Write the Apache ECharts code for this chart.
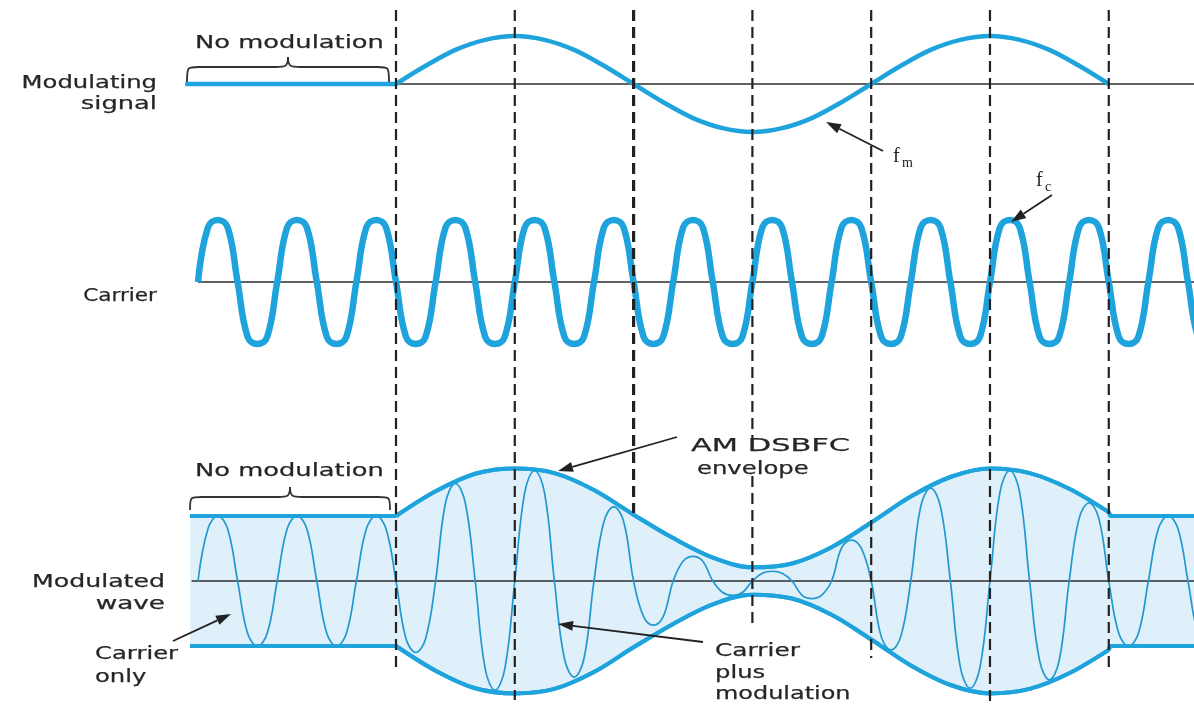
<!DOCTYPE html>
<html><head><meta charset="utf-8">
<script src="https://cdn.jsdelivr.net/npm/echarts@6/dist/echarts.min.js"></script>
<style>html,body{margin:0;padding:0;background:#fff}#c{width:1194px;height:704px}</style>
</head><body><div id="c"></div>
<script>
// ---------- data (time in carrier periods, amplitudes normalised) ----------
const T_MIN = -2.5, T_MAX = 12.576;

// Modulating signal
const modFlat = [[-0.16, 0], [2.5, 0]];
const modT = [2.5, 2.875, 3.25, 3.625, 4, 4.375, 4.75, 5.125, 5.5, 5.875, 6.25, 6.625, 7,
  7.375, 7.75, 8.125, 8.5, 8.875, 9.25, 9.625, 10, 10.375, 10.75, 11.125, 11.5];
const modV = [0, 0.38, 0.71, 0.92, 1, 0.92, 0.71, 0.38, 0, -0.38, -0.71, -0.92, -1,
  -0.92, -0.71, -0.38, 0, 0.38, 0.71, 0.92, 1, 0.92, 0.71, 0.38, 0];

// Carrier: one period sampled every 1/8 period
const carrierShape = [0, 0.88, 1, 0.88, 0, -0.88, -1, -0.88];
const carrierSteps = 102;
// Modulated-wave carrier half-cycle shape (1/8 period steps)
const lobeShape = [0, 0.8, 1, 0.8];

// Modulated wave: amplitude of each carrier half-cycle
const lobeAmp = [1, 1, 1, 1, 1, 1.1, 1.5, 1.68, 1.7, 1.48, 1.14, 0.68, 0.38, 0.22, 0.15, 0.27, 0.63, 1.06, 1.43, 1.65, 1.7, 1.52, 1.2, 1, 1, 1];

// AM envelope
const envFlatL = [[-0.1, 1], [2.5, 1]];
const envT = [2.5, 3, 3.5, 4, 4.5, 5, 5.5, 6, 6.5, 7, 7.5, 8, 8.5, 9, 9.5, 10, 10.5, 11, 11.5];
const envV = [1, 1.38, 1.65, 1.73, 1.66, 1.4, 1.02, 0.66, 0.36, 0.21, 0.27, 0.52, 0.9, 1.3, 1.6, 1.73, 1.66, 1.42, 1.06];
const envFlatR = [[11.5, 1.06], [11.52, 1], [12.6, 1]];

// Guide lines at modulating zero crossings / peaks
const guideT = [2.5, 4, 5.5, 7, 8.5, 10, 11.5];

// ---------- build series data ----------
const modData = modT.map((t, i) => [t, modV[i]]);
const carrierData = [];
for (let k = 0; k <= carrierSteps; k++) carrierData.push([k / 8, carrierShape[k % 8]]);
const thinData = [];
lobeAmp.forEach((a, j) => {
  const s = j % 2 ? -1 : 1;
  for (let k = 0; k < 4; k++) thinData.push([j * 0.5 + k * 0.125, s * a * lobeShape[k]]);
});
thinData.push([lobeAmp.length * 0.5, 0]);
const envUp = envT.map((t, i) => [t, envV[i]]);
const neg = arr => arr.map(p => [p[0], -p[1]]);

// ---------- styles / layout ----------
const BLUE = '#1ea3dc', THIN = '#2199d0', FILL = '#dff0fa', INK = '#2e2e2e';
const guideTop = 10;
const guideBottom = [668, 700, 513, 625, 658, 704, 668];
const guideWidth = [2.2, 2.2, 3.2, 2.2, 2.2, 2.2, 2.2];
const guideGaps = {3: [440, 476]};

const grids = [
  {left: 0, right: 0, top: 24, height: 120},      // modulating: baseline 84, unit 48
  {left: 0, right: 0, top: 204.5, height: 155},   // carrier: baseline 282, unit 62
  {left: 0, right: 0, top: 460.75, height: 240.5},// modulated: baseline 581, unit 65
  {left: 0, right: 0, top: 0, height: 704}        // overlay rows
];
const yRanges = [[-1.25, 1.25], [-1.25, 1.25], [-1.85, 1.85]];

const xAxes = grids.map((g, i) => ({type: 'value', gridIndex: i, min: T_MIN, max: T_MAX, show: false}));
const yAxes = yRanges.map((r, i) => ({type: 'value', gridIndex: i, min: r[0], max: r[1], show: false}));
yAxes.push({type: 'value', gridIndex: 3, min: 0, max: 704, inverse: true, show: false});

function line(idx, data, color, width, extra) {
  return Object.assign({type: 'line', xAxisIndex: idx, yAxisIndex: idx, data, showSymbol: false, symbol: 'none',
    lineStyle: {color, width}, silent: true, z: 3, clip: true}, extra || {});
}

const series = [];
// modulating
series.push(line(0, [[-0.16, 0], [T_MAX + 0.1, 0]], INK, 1.6, {z: 2}));
series.push(line(0, modFlat, BLUE, 4.5));
series.push(line(0, modData, BLUE, 4.5, {smooth: 0.33}));
// carrier
series.push(line(1, [[0, 0], [T_MAX + 0.1, 0]], INK, 1.6, {z: 2}));
series.push(line(1, carrierData, BLUE, 6.5, {smooth: 0.42}));
// modulated wave fills
const area = {color: FILL, opacity: 1, origin: 0};
[[envFlatL, false], [envUp, 0.33], [envFlatR, false]].forEach(([d, sm]) => {
  series.push(line(2, d, BLUE, 4, {smooth: sm, areaStyle: area, z: 1}));
  series.push(line(2, neg(d), BLUE, 4, {smooth: sm, areaStyle: area, z: 1}));
});
series.push(line(2, [[-0.08, 0], [T_MAX + 0.1, 0]], INK, 1.6, {z: 2}));
series.push(line(2, thinData, THIN, 1.7, {smooth: 0.4, z: 3}));
// envelope lines on top
[[envFlatL, false], [envUp, 0.33], [envFlatR, false]].forEach(([d, sm]) => {
  series.push(line(2, d, BLUE, 4, {smooth: sm, z: 4}));
  series.push(line(2, neg(d), BLUE, 4, {smooth: sm, z: 4}));
});
// dashed guide lines
guideT.forEach((t, i) => {
  const segs = [];
  const gap = guideGaps[i];
  if (gap) { segs.push([guideTop, gap[0]]); segs.push([gap[1], guideBottom[i]]); }
  else segs.push([guideTop, guideBottom[i]]);
  segs.forEach(s => series.push(line(3, [[t, s[0]], [t, s[1]]], '#222', guideWidth[i],
    {z: 5, lineStyle: {color: '#222', width: guideWidth[i], type: [11, 6]}})));
});

// ---------- annotations ----------
const FONT = '"DejaVu Sans", "Liberation Sans", sans-serif';
function label(text, x, y, align, sx) {
  return {type: 'text', x, y, scaleX: sx || 1.38, z: 100, silent: true,
    style: {text, x: 0, y: 0, font: '18px ' + FONT, fill: '#262626', stroke: '#262626', lineWidth: 0.25,
      align: align || 'left', verticalAlign: 'middle'}};
}
function arrow(x1, y1, x2, y2) {
  const a = Math.atan2(y2 - y1, x2 - x1), L = 15, W = 5;
  const bx = x2 - L * Math.cos(a), by = y2 - L * Math.sin(a);
  const px = -Math.sin(a) * W, py = Math.cos(a) * W;
  return [
    {type: 'line', z: 100, silent: true, shape: {x1, y1, x2: bx, y2: by}, style: {stroke: '#222', lineWidth: 1.8}},
    {type: 'polygon', z: 100, silent: true, shape: {points: [[x2, y2], [bx + px, by + py], [bx - px, by - py]]}, style: {fill: '#222'}}
  ];
}
function bez(x1, y1, cpx1, cpy1, cpx2, cpy2, x2, y2) {
  return {type: 'bezierCurve', z: 100, silent: true, shape: {x1, y1, cpx1, cpy1, cpx2, cpy2, x2, y2},
    style: {stroke: '#333', lineWidth: 1.8, fill: null}};
}
function seg(x1, y1, x2, y2) {
  return {type: 'line', z: 100, silent: true, shape: {x1, y1, x2, y2}, style: {stroke: '#333', lineWidth: 1.8}};
}
function brace(x1, x2, yEnd, yH, yCusp) {
  const xm = (x1 + x2) / 2;
  return [
    bez(x1, yEnd, x1, yH, x1, yH, x1 + 12, yH),
    seg(x1 + 12, yH, xm - 12, yH),
    bez(xm - 12, yH, xm - 3, yH, xm, yH, xm, yCusp),
    bez(xm, yCusp, xm, yH, xm + 3, yH, xm + 12, yH),
    seg(xm + 12, yH, x2 - 12, yH),
    bez(x2 - 12, yH, x2, yH, x2, yH, x2, yEnd)
  ];
}
function sub(x, y, main, s) {
  return [
    {type: 'text', x, y, z: 100, silent: true, style: {text: main, x: 0, y: 0, font: '20px "Liberation Serif", serif', fill: '#222', verticalAlign: 'middle'}},
    {type: 'text', x: x + 9, y: y + 6, z: 100, silent: true, style: {text: s, x: 0, y: 0, font: '14px "Liberation Serif", serif', fill: '#222', verticalAlign: 'middle'}}
  ];
}

const graphic = [
  label('No modulation', 195, 43, 'left', 1.43),
  ...brace(187, 389, 82, 67, 57),
  label('Modulating', 157, 83, 'right', 1.35),
  label('signal', 157, 104, 'right', 1.43),
  label('Carrier', 157, 296, 'right', 1.2),
  label('No modulation', 195, 471, 'left', 1.43),
  ...brace(190, 390, 510, 497, 487),
  label('AM DSBFC', 691, 446, 'left', 1.69),
  label('envelope', 697, 469, 'left', 1.35),
  label('Modulated', 165, 582, 'right', 1.4),
  label('wave', 165, 604, 'right', 1.46),
  label('Carrier', 95, 654, 'left', 1.35),
  label('only', 95, 677, 'left', 1.35),
  label('Carrier', 715, 651, 'left', 1.38),
  label('plus', 715, 673, 'left', 1.35),
  label('modulation', 715, 694, 'left', 1.33),
  ...sub(893, 157, 'f', 'm'),
  ...sub(1036, 181, 'f', 'c'),
  ...arrow(883, 151, 826, 122),
  ...arrow(1052, 195, 1011, 222),
  ...arrow(677, 437, 558, 471),
  ...arrow(703, 642, 558, 624),
  ...arrow(173, 641, 231, 614)
];

const chart = echarts.init(document.getElementById('c'), null, {renderer: 'canvas'});
chart.setOption({
  animation: false,
  backgroundColor: '#fff',
  grid: grids,
  xAxis: xAxes,
  yAxis: yAxes,
  series,
  graphic
});
</script></body></html>
